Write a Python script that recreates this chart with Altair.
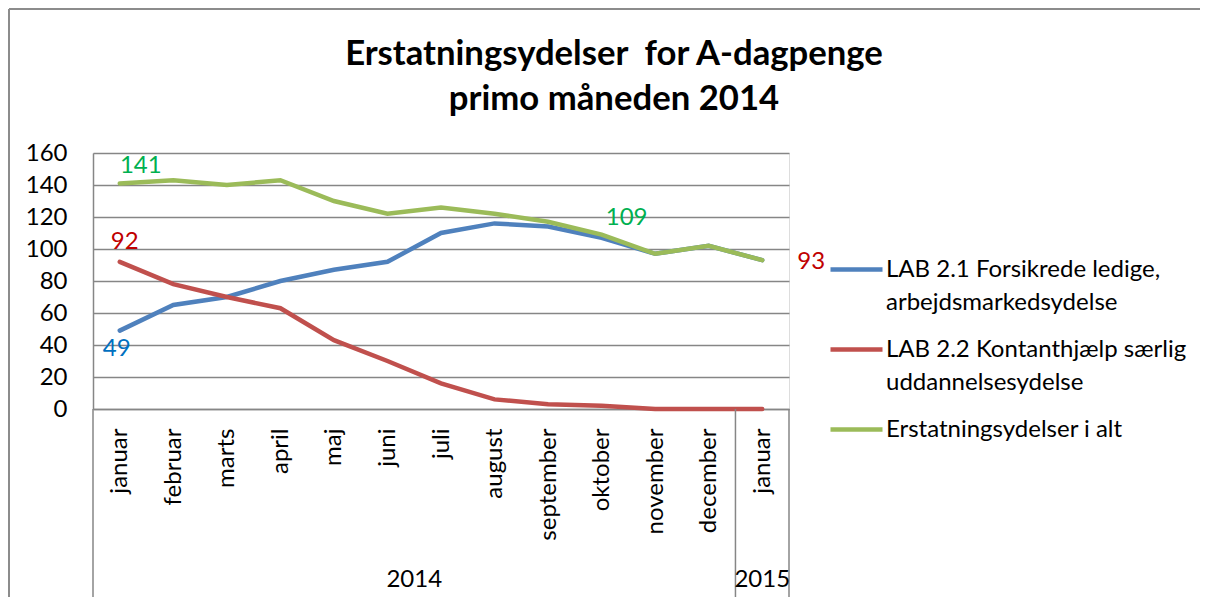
import altair as alt
import pandas as pd

months = ["januar", "februar", "marts", "april", "maj", "juni", "juli", "august",
          "september", "oktober", "november", "december", "januar"]
years = ["2014", "2015"]
year_centers = [5.5, 12]
group_bounds = [-0.5, 11.5, 12.5]

series_names = ["LAB 2.1 Forsikrede ledige, arbejdsmarkedsydelse",
                "LAB 2.2 Kontanthjælp særlig uddannelsesydelse",
                "Erstatningsydelser i alt"]
legend_lines = [["LAB 2.1 Forsikrede ledige,", "arbejdsmarkedsydelse"],
                ["LAB 2.2 Kontanthjælp særlig", "uddannelsesydelse"],
                ["Erstatningsydelser i alt", ""]]
colors = ["#4F81BD", "#C0504D", "#9BBB59"]

blue = [49, 65, 70, 80, 87, 92, 110, 116, 114, 107, 97, 102, 93]
red = [92, 78, 70, 63, 43, 30, 16, 6, 3, 2, 0, 0, 0]
green = [141, 143, 140, 143, 130, 122, 126, 122, 117, 109, 97, 102, 93]

title_lines = ["Erstatningsydelser\u00a0 for A-dagpenge", "primo måneden 2014"]

FONT = "Lato"
GRID = "#868686"
FS = 24

idx = list(range(len(months)))
frames = []
for name, vals in zip(series_names, [blue, red, green]):
    frames.append(pd.DataFrame({"i": idx, "v": vals, "series": name}))
df = pd.concat(frames, ignore_index=True)

xscale = alt.Scale(domain=[-0.5, 12.5], nice=False, zero=False)
yscale = alt.Scale(domain=[0, 160], nice=False)

month_expr = "[" + ",".join("'%s'" % m for m in months) + "][datum.value]"
legend_expr = " : ".join(
    "datum.label == '%s' ? [%s]" % (n, ",".join("'%s'" % s for s in ls))
    for n, ls in zip(series_names, legend_lines)) + " : datum.label"

color = alt.Color(
    "series:N",
    scale=alt.Scale(domain=series_names, range=colors),
    legend=alt.Legend(
        title=None, orient="none", legendX=735, legendY=88, padding=0,
        symbolType="stroke", symbolSize=2704, symbolStrokeWidth=4.5,
        labelExpr=legend_expr, labelFont=FONT, labelFontSize=FS, labelColor="#000000",
        labelLimit=500, labelOffset=1, rowPadding=6, labelBaseline="middle"))

x_axis = alt.Axis(title=None, values=idx, labelExpr=month_expr, labelAngle=270,
                  labelFont=FONT, labelFontSize=FS, labelColor="#000000",
                  ticks=False, tickSize=0, labelPadding=19, grid=False,
                  domainColor=GRID, domainWidth=1.5, labelFlush=False,
                  labelOverlap=False)
y_axis = alt.Axis(title=None, values=list(range(0, 161, 20)), labelFont=FONT,
                  labelFontSize=FS, labelColor="#000000", ticks=False, tickSize=0,
                  labelPadding=26, grid=True, gridColor=GRID, gridWidth=1.5,
                  domainColor=GRID, domainWidth=1.5, labelOverlap=False,
                  labelFlush=False)

base = alt.Chart(df).encode(
    x=alt.X("i:Q", scale=xscale, axis=x_axis),
    y=alt.Y("v:Q", scale=yscale, axis=y_axis),
    color=color,
)

lines = [base.transform_filter(alt.datum.series == n).mark_line(strokeWidth=4.5, strokeCap="round")
         for n in series_names]

# group separators of the two-level category axis
sep = alt.Chart(pd.DataFrame({"b": group_bounds})).mark_rule(color=GRID, strokeWidth=1.5).encode(
    x=alt.X("b:Q", scale=xscale, axis=x_axis), y=alt.value(256), y2=alt.value(445))

yr = alt.Chart(pd.DataFrame({"c": year_centers, "t": years})).mark_text(
    font=FONT, fontSize=FS, color="#000000", baseline="middle").encode(
    x=alt.X("c:Q", scale=xscale, axis=x_axis), y=alt.value(427), text="t:N")

def lab(i, v, col, dx, dy):
    return alt.Chart(pd.DataFrame({"i": [i], "v": [v]})).mark_text(
        font=FONT, fontSize=FS, color=col, dx=dx, dy=dy, baseline="middle").encode(
        x=alt.X("i:Q", scale=xscale, axis=x_axis), y=alt.Y("v:Q", scale=yscale, axis=y_axis),
        text=alt.Text("v:Q"))

labels = [
    lab(0, green[0], "#00B050", 21, -17),
    lab(0, red[0], "#C00000", 5, -20),
    lab(0, blue[0], "#0070C0", -3, 18),
    lab(9, green[9], "#00B050", 25, -17),
    lab(12, green[12], "#C00000", 49, 2),
]

title = alt.Chart(pd.DataFrame({"a": [0]})).mark_text(
    font=FONT, fontSize=34.7, fontWeight="bold", color="#000000", lineHeight=45,
    baseline="middle", align="center").encode(
    x=alt.value(521), y=alt.value(-98), text=alt.value(title_lines))

border_left = alt.Chart(pd.DataFrame({"a": [0]})).mark_rule(color="#8C8C8C", strokeWidth=2).encode(
    x=alt.value(-84), y=alt.value(-144), y2=alt.value(444))
border_top = alt.Chart(pd.DataFrame({"a": [0]})).mark_rule(color="#8C8C8C", strokeWidth=2).encode(
    x=alt.value(-84), x2=alt.value(1110), y=alt.value(-144))

chart = alt.layer(*lines, border_left, border_top, title, sep, yr, *labels).properties(
    width=696, height=256,
    autosize=alt.AutoSizeParams(type="none"),
    padding={"left": 85, "top": 145, "right": 411, "bottom": 188},
).configure_view(stroke="transparent").configure(style={"guide-label": {"lineHeight": 33}})

chart.save("out.html", embed_options={"renderer": "svg", "actions": False})
